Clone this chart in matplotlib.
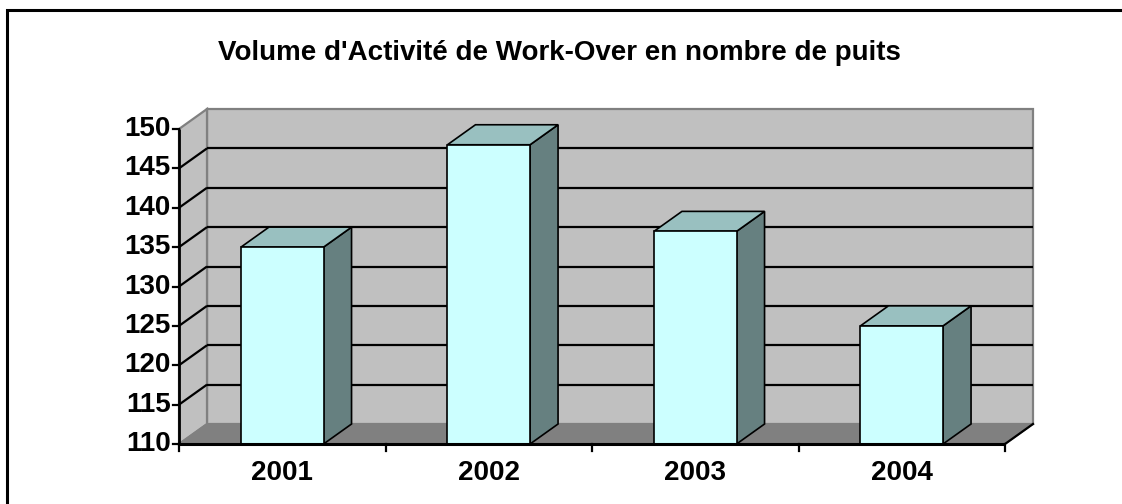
import matplotlib
matplotlib.use("Agg")
import matplotlib.pyplot as plt
from matplotlib.patches import Polygon, Rectangle

# ---- data ----
categories = ["2001", "2002", "2003", "2004"]
values = [135, 148, 137, 125]
y_ticks = [110, 115, 120, 125, 130, 135, 140, 145, 150]
title = "Volume d'Activité de Work-Over en nombre de puits"

# ---- style ----
W, H, DPI = 1122, 504, 100
FONT = "Liberation Sans"
front_col = "#CCFFFF"
top_col = "#99C0C0"
side_col = "#668080"
wall_col = "#C0C0C0"
floor_col = "#808080"
edge_gray = "#808080"

fig = plt.figure(figsize=(W / DPI, H / DPI), dpi=DPI)
fig.patch.set_facecolor("white")

# front plane of the 3D box, in pixels
ax_left, ax_right = 179, 1005
ax_bottom, ax_top = 444, 129
ax = fig.add_axes([ax_left / W, 1 - ax_bottom / H,
                   (ax_right - ax_left) / W, (ax_bottom - ax_top) / H])
ymin, ymax = y_ticks[0], y_ticks[-1]
xmin, xmax = -0.5, len(categories) - 0.5
ax.set_xlim(xmin, xmax)
ax.set_ylim(ymin, ymax)
ax.axis("off")

# depth offset (pixels -> data units)
depth_px_x, depth_px_y = 28, 20
DX = depth_px_x * (xmax - xmin) / (ax_right - ax_left)
DY = depth_px_y * (ymax - ymin) / (ax_bottom - ax_top)

lw = 1.2

def poly(pts, fc, ec, z, lw_=lw):
    p = Polygon(pts, closed=True, facecolor=fc, edgecolor=ec, linewidth=lw_,
                zorder=z, clip_on=False, joinstyle="miter")
    ax.add_patch(p)

# back wall
poly([(xmin + DX, ymin + DY), (xmax + DX, ymin + DY),
      (xmax + DX, ymax + DY), (xmin + DX, ymax + DY)], wall_col, edge_gray, 1, 1.6)
# left wall
poly([(xmin, ymin), (xmin + DX, ymin + DY), (xmin + DX, ymax + DY), (xmin, ymax)],
     wall_col, edge_gray, 1, 1.6)
# floor
poly([(xmin, ymin), (xmax, ymin), (xmax + DX, ymin + DY), (xmin + DX, ymin + DY)],
     floor_col, edge_gray, 1.5, 1.2)

# gridlines on back wall and left wall
for t in y_ticks[1:-1]:
    ax.plot([xmin + DX, xmax + DX], [t + DY, t + DY], color="black", lw=1.6,
            zorder=2, clip_on=False, solid_capstyle="butt")
    ax.plot([xmin, xmin + DX], [t, t + DY], color="black", lw=1.6,
            zorder=2, clip_on=False, solid_capstyle="butt")

# floor right edge
ax.plot([xmax, xmax + DX], [ymin, ymin + DY], color="black", lw=1.6, zorder=2,
        clip_on=False)

# bars
bw = 0.4
for i, v in enumerate(values):
    l, r = i - bw / 2, i + bw / 2
    poly([(r, ymin), (r + DX, ymin + DY), (r + DX, v + DY), (r, v)], side_col, "black", 3)
    poly([(l, v), (r, v), (r + DX, v + DY), (l + DX, v + DY)], top_col, "black", 3)
ax.bar(range(len(categories)), [v - ymin for v in values], bottom=ymin, width=bw,
       color=front_col, edgecolor="black", linewidth=lw, zorder=4, clip_on=False)

# front axes lines
ax.plot([xmin, xmax], [ymin, ymin], color="black", lw=2.2, zorder=5, clip_on=False,
        solid_capstyle="butt")
ax.plot([xmin, xmin], [ymin, ymax], color="black", lw=2.0, zorder=5, clip_on=False,
        solid_capstyle="butt")

# y ticks (pointing left) and labels
tick_dx = 6 * (xmax - xmin) / (ax_right - ax_left)
for t in y_ticks:
    ax.plot([xmin - tick_dx, xmin], [t, t], color="black", lw=1.6, zorder=5,
            clip_on=False)
    ax.text(xmin - tick_dx * 1.4, t, str(t), ha="right", va="center",
            fontsize=20, fontweight="bold", family=FONT, zorder=6)

# x ticks at category boundaries (pointing down) and labels
tick_dy = 7 * (ymax - ymin) / (ax_bottom - ax_top)
for b in range(len(categories) + 1):
    x = xmin + b
    ax.plot([x, x], [ymin, ymin - tick_dy], color="black", lw=1.6, zorder=5,
            clip_on=False)
lab_dy = 29 * (ymax - ymin) / (ax_bottom - ax_top)
for i, c in enumerate(categories):
    ax.text(i, ymin - lab_dy, c, ha="center", va="center", fontsize=20,
            fontweight="bold", family=FONT)

# title
fig.text(559 / W, 1 - 53 / H, title, ha="center", va="center", fontsize=20,
         fontweight="bold", family=FONT)

# chart area border (only top and left visible)
fig.patches.append(Rectangle((7 / W, -0.1), 1.2, 1.1 - 10 / H, transform=fig.transFigure,
                             facecolor="none", edgecolor="black", linewidth=2.2,
                             figure=fig))

fig.savefig("out.png", dpi=DPI, facecolor="white")
